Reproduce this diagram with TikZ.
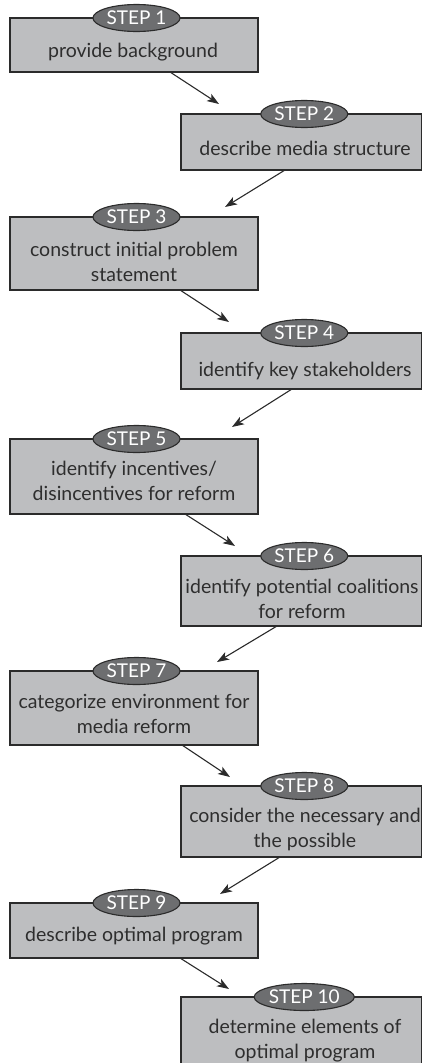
\documentclass[tikz,border=0pt]{standalone}
\usepackage{fontspec}
\setmainfont{Lato}
\usetikzlibrary{arrows.meta,shapes.geometric}
\definecolor{boxfill}{HTML}{BDBEC0}
\definecolor{ovalfill}{HTML}{6D6E70}
\definecolor{edgec}{HTML}{2B2B2B}
\definecolor{ink}{HTML}{2E2E2E}
\tikzset{
  stepbox/.style={draw=edgec, line width=1.1pt, fill=boxfill, inner sep=0pt, outer sep=0pt, anchor=north west},
  leftbox/.style={stepbox, minimum width=248pt},
  rightbox/.style={stepbox, minimum width=240.5pt},
  oval/.style={ellipse, draw=edgec, line width=1.1pt, fill=ovalfill, minimum width=87pt, minimum height=27pt, inner sep=0pt, text=white, font=\fontsize{19}{22}\selectfont},
  txt/.style={text=ink, font=\fontsize{19.5}{25}\selectfont, align=center, inner sep=0pt, anchor=base},
  arr/.style={draw=edgec, line width=1.1pt, -{Stealth[length=12pt,width=8.5pt,inset=3pt]}}
}
\begin{document}
\begin{tikzpicture}[x=1pt,y=-1pt]
\useasboundingbox (0,0) rectangle (423,1063);
\clip (0,0) rectangle (423,1063);
% boxes
\node[leftbox, minimum height=54pt] (b1) at (10,18) {};
\node[rightbox, minimum height=56pt] (b2) at (181,114) {};
\node[leftbox, minimum height=73pt] (b3) at (10,217) {};
\node[rightbox, minimum height=56pt] (b4) at (181,333) {};
\node[leftbox, minimum height=75pt] (b5) at (10,439) {};
\node[rightbox, minimum height=70pt] (b6) at (181,556) {};
\node[leftbox, minimum height=74pt] (b7) at (10,671) {};
\node[rightbox, minimum height=71pt] (b8) at (181,786) {};
\node[leftbox, minimum height=55pt] (b9) at (10,903) {};
\node[rightbox, minimum height=90pt] (b10) at (181,997) {};
% texts (anchor = baseline of last line)
\node[txt] (t1) at (133,57) {provide background};
\node[txt] (t2) at (305,155) {describe media structure};
\node[txt] (t3) at (134,281) {construct initial problem\\statement};
\node[txt] (t4) at (305,376) {identify key stakeholders};
\node[txt] (t5) at (134,500) {identify incentives/\\disincentives for reform};
\node[txt] (t6) at (302,618) {identify potential coalitions\\for reform};
\node[txt] (t7) at (134,733) {categorize environment for\\media reform};
\node[txt] (t8) at (305,847) {consider the necessary and\\the possible};
\node[txt] (t9) at (134,941) {describe optimal program};
\node[txt] (t10) at (305,1058) {determine elements of\\optimal program};
% ovals
\node[oval] (e1) at ([xshift=2.5pt]b1.north) {STEP 1};
\node[oval] (e2) at ([xshift=3pt]b2.north) {STEP 2};
\node[oval] (e3) at ([xshift=2.5pt]b3.north) {STEP 3};
\node[oval] (e4) at ([xshift=3pt]b4.north) {STEP 4};
\node[oval] (e5) at ([xshift=2.5pt]b5.north) {STEP 5};
\node[oval] (e6) at ([xshift=3pt]b6.north) {STEP 6};
\node[oval] (e7) at ([xshift=2.5pt]b7.north) {STEP 7};
\node[oval] (e8) at ([xshift=3pt]b8.north) {STEP 8};
\node[oval] (e9) at ([xshift=2.5pt]b9.north) {STEP 9};
\node[oval] (e10) at ([xshift=3pt]b10.north) {STEP 10};
% arrow tips
\coordinate (p2) at (219,104);
\coordinate (p3) at (225,207);
\coordinate (p4) at (229,322);
\coordinate (p5) at (232,427);
\coordinate (p6) at (235,546);
\coordinate (p7) at (217,662);
\coordinate (p8) at (230,777);
\coordinate (p9) at (220,894);
\coordinate (p10) at (229,989);
% arrows
\draw[arr] ([xshift=160pt]b1.south west) -- (p2);
\draw[arr] ([xshift=104pt]b2.south west) -- (p3);
\draw[arr] ([xshift=170pt]b3.south west) -- (p4);
\draw[arr] ([xshift=111pt]b4.south west) -- (p5);
\draw[arr] ([xshift=175pt]b5.south west) -- (p6);
\draw[arr] ([xshift=96pt]b6.south west) -- (p7);
\draw[arr] ([xshift=172pt]b7.south west) -- (p8);
\draw[arr] ([xshift=99pt]b8.south west) -- (p9);
\draw[arr] ([xshift=170pt]b9.south west) -- (p10);
\end{tikzpicture}
\end{document}
